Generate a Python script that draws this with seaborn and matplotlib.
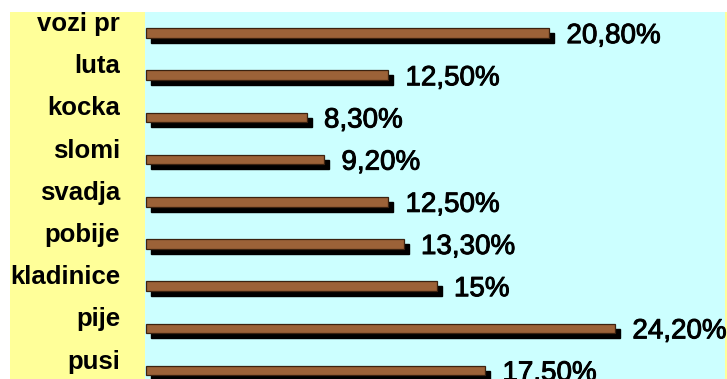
import matplotlib
matplotlib.use("Agg")
import matplotlib.pyplot as plt
import matplotlib.transforms as mtransforms
import matplotlib.patheffects as pe
from matplotlib.patches import Rectangle
import seaborn as sns
import pandas as pd

categories = ["vozi pr", "luta", "kocka", "slomi", "svadja", "pobije", "kladinice", "pije", "pusi"]
percent = [20.8, 12.5, 8.3, 9.2, 12.5, 13.3, 15.0, 24.2, 17.5]

df = pd.DataFrame({"kategorija": categories, "udio": percent})

sns.set_theme(style="white")
plt.rcParams["font.family"] = ["Liberation Sans", "DejaVu Sans"]

W, H = 727, 379
fig = plt.figure(figsize=(W / 100, H / 100), dpi=100, facecolor="white")

# yellow frame behind the category names
fig.patches.append(Rectangle((10 / W, 0), 1 - 10 / W, (H - 12) / H,
                             transform=fig.transFigure, facecolor="#FFFF99",
                             edgecolor="none", zorder=-5))

ax = fig.add_axes([145 / W, 0, (725 - 145) / W, (H - 12) / H])
ax.set_facecolor("#CCFFFF")
ax.set_zorder(1)

bar_w = 0.23
# drop shadow
sns.barplot(data=df, x="udio", y="kategorija", orient="h", order=categories,
            color="black", width=bar_w, saturation=1, ax=ax)
shadow = list(ax.patches)
off = mtransforms.ScaledTranslation(5 / 100, -5 / 100, fig.dpi_scale_trans)
for p in shadow:
    p.set_transform(ax.transData + off)
    p.set_edgecolor("black")

# wooden bars
sns.barplot(data=df, x="udio", y="kategorija", orient="h", order=categories,
            color="#9C6238", width=bar_w, saturation=1, ax=ax)
for p in ax.patches[len(shadow):]:
    p.set_edgecolor("#3B2210")
    p.set_linewidth(0.9)

ax.set_xlim(-0.05, 29.85)
ax.set_ylim(8.2, -0.5)
ax.set_xlabel("")
ax.set_ylabel("")
ax.set_xticks([])
ax.set_yticks([])
for s in ax.spines.values():
    s.set_visible(False)

# category names
name_tr = ax.get_yaxis_transform() + mtransforms.ScaledTranslation(0, 2 / 100, fig.dpi_scale_trans)
for i, name in enumerate(categories):
    ax.text(-25 / 580, i, name, transform=name_tr, ha="right", va="baseline",
            fontsize=18.5, fontweight="bold", color="black", clip_on=False)

# value labels
val_tr = ax.transData + mtransforms.ScaledTranslation(17 / 100, -10 / 100, fig.dpi_scale_trans)
for i, v in enumerate(percent):
    txt = f"{v:.0f}%" if float(v).is_integer() else f"{v:.2f}%".replace(".", ",")
    ax.text(v, i, txt, transform=val_tr, ha="left", va="baseline",
            fontsize=20, color="black", clip_on=False,
            path_effects=[pe.withStroke(linewidth=0.7, foreground="black")])

# thin yellow edge on the right
fig.patches.append(Rectangle((725 / W, 0), 2 / W, (H - 12) / H,
                             transform=fig.transFigure, facecolor="#FFFF99",
                             edgecolor="none", zorder=-5))

fig.savefig("out.png", dpi=100, facecolor="white")
